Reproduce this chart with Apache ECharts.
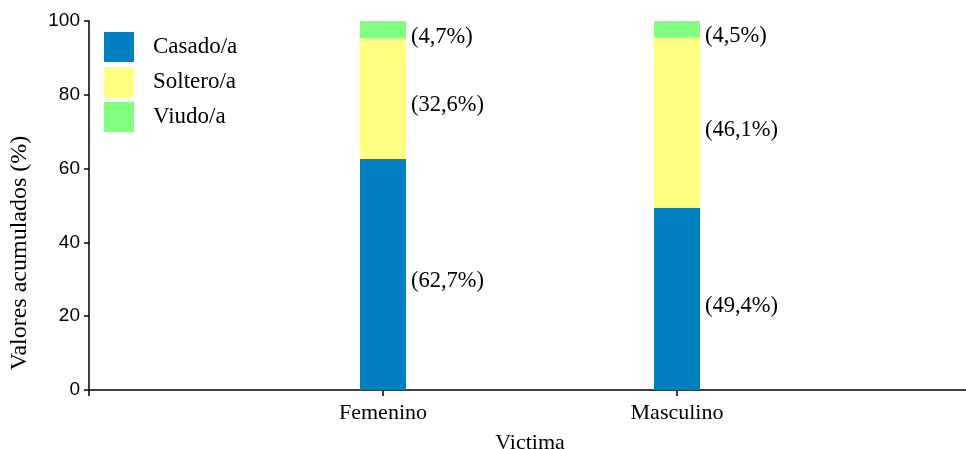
<!DOCTYPE html>
<html>
<head>
<meta charset="utf-8">
<script src="https://cdn.jsdelivr.net/npm/echarts@6/dist/echarts.min.js"></script>
<style>html,body{margin:0;padding:0;background:#fff}#c{width:966px;height:449px}</style>
</head>
<body>
<div id="c"></div>
<script>
var categories = ['', 'Femenino', 'Masculino', ''];
var casado = [null, 62.7, 49.4, null];
var soltero = [null, 32.6, 46.1, null];
var viudo = [null, 4.7, 4.5, null];
var seriesNames = ['Casado/a', 'Soltero/a', 'Viudo/a'];
var colors = ['#0080C0', '#FFFF80', '#80FF80'];
var yTicks = [0, 20, 40, 60, 80, 100];

var serif = '"Liberation Serif", "Times New Roman", serif';
var sans = '"Liberation Sans", Arial, sans-serif';

function fmt(p) {
  return '(' + p.value.toFixed(1).replace('.', ',') + '%)';
}
function mk(name, data, color) {
  return {
    name: name, type: 'bar', stack: 'total', data: data, barWidth: 46,
    itemStyle: { color: color },
    label: { show: true, position: 'right', distance: 5, offset: [0, 7],
      formatter: fmt, fontFamily: serif, fontSize: 22.5, color: '#000' }
  };
}
var chart = echarts.init(document.getElementById('c'), null, { renderer: 'canvas' });
chart.setOption({
  animation: false,
  color: colors,
  grid: { left: 89, top: 21, width: 882, bottom: 59, containLabel: false, outerBoundsMode: 'none' },
  legend: {
    orient: 'vertical', left: 104, top: 32, itemWidth: 30, itemHeight: 30, itemGap: 5,
    padding: 0, data: seriesNames, icon: 'rect',
    textStyle: { fontFamily: serif, fontSize: 23, color: '#000', padding: [0, 0, 0, 14] }
  },
  xAxis: {
    type: 'category', data: categories, boundaryGap: false,
    name: 'Victima', nameLocation: 'middle', nameGap: 42,
    nameTextStyle: { fontFamily: serif, fontSize: 22, color: '#000' },
    axisLine: { lineStyle: { color: '#000', width: 1.5 } },
    axisTick: { show: true, length: 6, lineStyle: { color: '#000', width: 1.5 } },
    axisLabel: { fontFamily: serif, fontSize: 22, color: '#000', margin: 12 },
    splitLine: { show: false }
  },
  yAxis: {
    type: 'value', min: 0, max: 100, interval: 20,
    name: 'Valores acumulados (%)', nameLocation: 'middle', nameGap: 57,
    nameTextStyle: { fontFamily: serif, fontSize: 24, color: '#000', padding: [0, 95, 0, 0] },
    axisLine: { show: true, lineStyle: { color: '#000', width: 1.5 } },
    axisTick: { show: true, length: 5, lineStyle: { color: '#000', width: 1.5 } },
    axisLabel: { fontFamily: sans, fontSize: 19, color: '#000', margin: 9,
      formatter: function (v) { return yTicks.indexOf(v) >= 0 ? String(v) : ''; } },
    splitLine: { show: false }
  },
  series: [
    mk(seriesNames[0], casado, colors[0]),
    mk(seriesNames[1], soltero, colors[1]),
    mk(seriesNames[2], viudo, colors[2])
  ]
});
</script>
</body>
</html>
